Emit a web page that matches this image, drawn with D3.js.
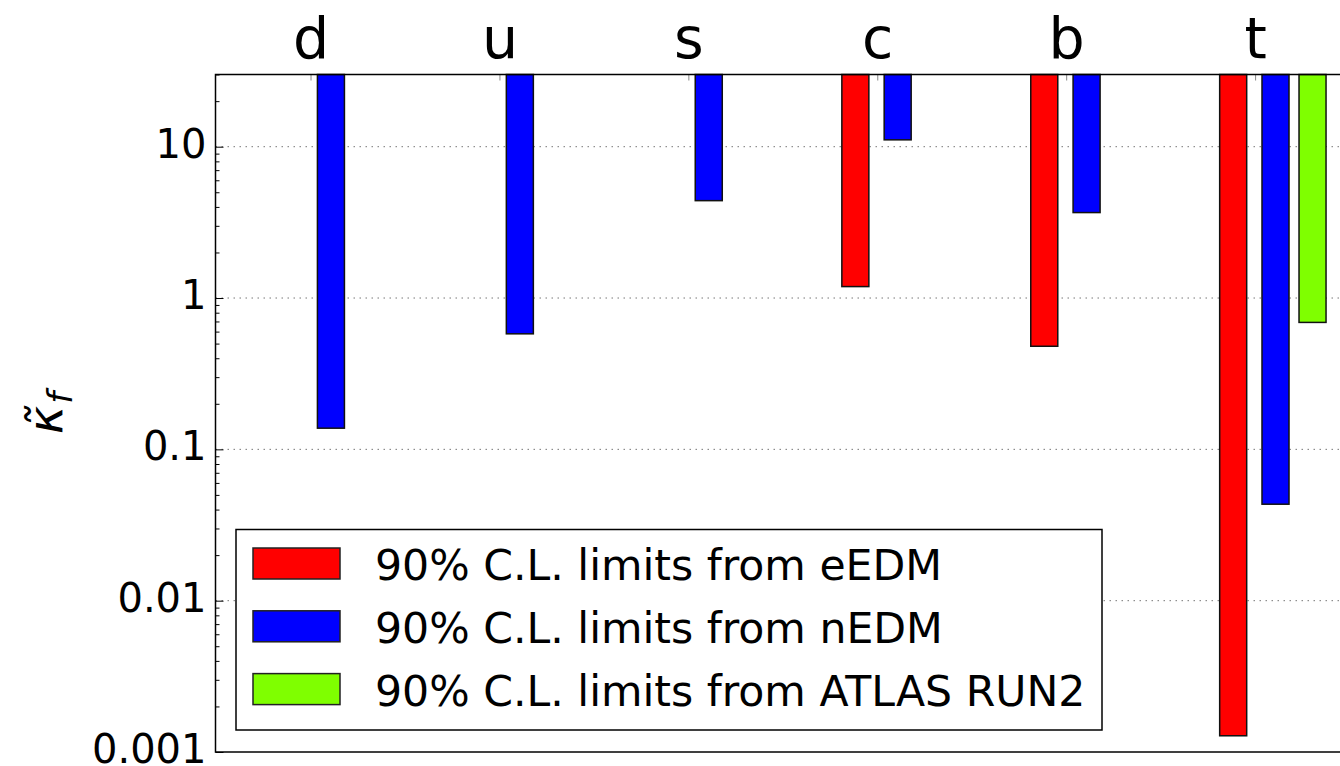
<!DOCTYPE html>
<html>
<head>
<meta charset="utf-8">
<script src="https://cdn.jsdelivr.net/npm/d3@7"></script>
<style>
  html, body { margin: 0; padding: 0; background: #fff; }
  svg { display: block; font-family: "DejaVu Sans", sans-serif; }
</style>
</head>
<body>
<svg id="chart" width="1340" height="766"></svg>
<script>
// quark flavours along the top
const categories = ['d', 'u', 's', 'c', 'b', 't'];

// upper limits on kappa-tilde per flavour (null = no bar)
const eEDM  = [null, null, null, 1.19, 0.48, 0.00128];
const nEDM  = [0.138, 0.58, 4.4, 11.1, 3.67, 0.0434];
const atlas = [null, null, null, null, null, 0.69];

const seriesNames = [
  '90% C.L. limits from eEDM',
  '90% C.L. limits from nEDM',
  '90% C.L. limits from ATLAS RUN2'
];
const yTicks = [0.001, 0.01, 0.1, 1, 10];
const yTickLabels = ['0.001', '0.01', '0.1', '1', '10'];

const series = [
  {name: seriesNames[0], values: eEDM,  color: '#ff0000', offset: -0.116},
  {name: seriesNames[1], values: nEDM,  color: '#0000ff', offset: 0.108},
  {name: seriesNames[2], values: atlas, color: '#7fff00', offset: 0.304}
];

const FONT = '"DejaVu Sans", sans-serif';
const BAR_W = 0.143; // in category units
const margin = {top: 74.5, left: 215.5, bottom: 752, right: 1342};

const svg = d3.select('#chart');

const x = d3.scaleLinear()
  .domain([-0.503, 5.46])
  .range([margin.left, margin.right]);

const y = d3.scaleLog()
  .domain([0.001, 30])
  .range([margin.bottom, margin.top]);

// grid lines
svg.append('g')
  .selectAll('line')
  .data(yTicks.slice(1))
  .join('line')
  .attr('x1', margin.left)
  .attr('x2', margin.right)
  .attr('y1', d => y(d))
  .attr('y2', d => y(d))
  .attr('stroke', '#777')
  .attr('stroke-width', 1)
  .attr('stroke-dasharray', '1.5,4.5');

// bars hanging from the top of the axes
series.forEach(s => {
  const pts = s.values.map((v, i) => ({v, i})).filter(d => d.v !== null);
  svg.append('g')
    .selectAll('rect')
    .data(pts)
    .join('rect')
    .attr('x', d => x(d.i + s.offset - BAR_W / 2))
    .attr('width', d => x(d.i + BAR_W / 2) - x(d.i - BAR_W / 2))
    .attr('y', y(30))
    .attr('height', d => y(d.v) - y(30))
    .attr('fill', s.color)
    .attr('stroke', '#111')
    .attr('stroke-width', 1.5);
});

// y axis, major ticks inward
const yAxis = svg.append('g')
  .attr('transform', `translate(${margin.left},0)`)
  .call(d3.axisLeft(y)
    .tickValues(yTicks)
    .tickFormat((d, i) => yTickLabels[i])
    .tickSizeInner(-8)
    .tickSizeOuter(0)
    .tickPadding(9))
  .attr('font-family', FONT);
yAxis.select('.domain').remove();
yAxis.selectAll('line').attr('stroke', '#000').attr('stroke-width', 1);
yAxis.selectAll('text')
  .attr('font-size', 40)
  .attr('fill', '#000')
  .attr('dy', '0.26em');

// y axis minor ticks
const minor = [];
[0.001, 0.01, 0.1, 1, 10].forEach(dec => {
  for (let k = 2; k <= 9; k++) if (dec * k <= 30) minor.push(dec * k);
});
const yMinor = svg.append('g')
  .attr('transform', `translate(${margin.left},0)`)
  .call(d3.axisLeft(y).tickValues(minor).tickFormat('').tickSizeInner(-4).tickSizeOuter(0));
yMinor.select('.domain').remove();
yMinor.selectAll('line').attr('stroke', '#000').attr('stroke-width', 1);

// top axis with flavour labels
const xAxis = svg.append('g')
  .attr('transform', `translate(0,${margin.top})`)
  .call(d3.axisTop(x)
    .tickValues(d3.range(categories.length))
    .tickFormat(i => categories[i])
    .tickSizeInner(-6)
    .tickSizeOuter(0)
    .tickPadding(17))
  .attr('font-family', FONT);
xAxis.select('.domain').remove();
xAxis.selectAll('line').attr('stroke', '#888').attr('stroke-width', 1);
xAxis.selectAll('text')
  .attr('font-size', 57)
  .attr('fill', '#000');

// frame
svg.append('rect')
  .attr('x', margin.left)
  .attr('y', margin.top)
  .attr('width', margin.right - margin.left)
  .attr('height', margin.bottom - margin.top)
  .attr('fill', 'none')
  .attr('stroke', '#000')
  .attr('stroke-width', 1.5);

// y label
const yl = svg.append('text')
  .attr('transform', 'translate(62,413) rotate(-90)')
  .attr('text-anchor', 'middle')
  .attr('font-family', FONT)
  .attr('font-size', 48)
  .attr('font-style', 'italic')
  .attr('fill', '#000');
yl.append('tspan').text('\u03BA\u0303');
yl.append('tspan').attr('font-size', 34).attr('dy', 10).attr('dx', 2).text('f');

// legend
const legend = svg.append('g').attr('font-family', FONT);
legend.append('rect')
  .attr('x', 236)
  .attr('y', 529.5)
  .attr('width', 866)
  .attr('height', 200.5)
  .attr('fill', '#fff')
  .attr('stroke', '#000')
  .attr('stroke-width', 1.5);
const rows = legend.selectAll('g.row')
  .data(series)
  .join('g')
  .attr('class', 'row')
  .attr('transform', (d, i) => `translate(0,${548 + i * 62.8})`);
rows.append('rect')
  .attr('x', 253)
  .attr('width', 87)
  .attr('height', 31)
  .attr('fill', d => d.color)
  .attr('stroke', '#222')
  .attr('stroke-width', 1.5);
rows.append('text')
  .attr('x', 375)
  .attr('y', 32)
  .attr('font-size', 42.6)
  .attr('fill', '#000')
  .text(d => d.name);
</script>
</body>
</html>
